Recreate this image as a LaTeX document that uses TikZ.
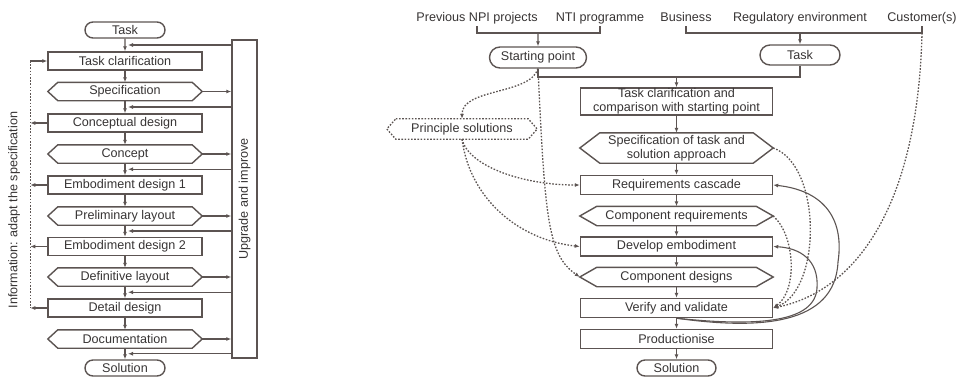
\documentclass[tikz,border=0pt]{standalone}
\usepackage{fontspec}
\setmainfont{Liberation Sans}
\usetikzlibrary{arrows.meta,shapes.misc,calc}
\definecolor{lc}{RGB}{92,84,82}
\definecolor{tc}{RGB}{55,52,52}
\begin{document}
\begin{tikzpicture}[x=1pt,y=-1pt,
 every node/.style={font=\fontsize{12.6}{13.8}\selectfont, text=tc, inner sep=0pt},
 box/.style={draw=lc, line width=1.4pt, minimum width=154pt, minimum height=18pt},
 rbox/.style={box, minimum width=192pt, minimum height=19pt},
 hexn/.style={minimum width=154pt, minimum height=18pt},
 rhexn/.style={minimum width=193pt, minimum height=19pt},
 stad/.style={draw=lc, line width=1.4pt, rounded rectangle, minimum width=80pt, minimum height=16pt},
 lab/.style={text height=10pt, text depth=3pt, inner sep=1.5pt},
 arr/.style={draw=lc, line width=1.1pt, -{Latex[length=5pt,width=4pt]}},
 ln/.style={draw=lc, line width=1.1pt},
 dotl/.style={draw=lc, line width=1.3pt, dash pattern=on 1.6pt off 1.6pt},
 dotarr/.style={dotl, -{Latex[length=5pt,width=4pt]}},
 hexline/.style={draw=lc, line width=1.4pt, line join=miter},
 solarr/.style={draw=lc, line width=1.1pt, -{Latex[length=5pt,width=4pt]}}
]
\useasboundingbox (0,0) rectangle (966,376);

% ---------------- left diagram ----------------
\node[stad] (task) at (125,30) {Task};
\node[box] (tcl) at (125,61) {Task clarification};
\node[hexn] (spec) at (125,91.5) {Specification};
\node[box] (cd) at (125,123) {Conceptual design};
\node[hexn] (concept) at (125,154) {Concept};
\node[box] (ed1) at (125,185) {Embodiment design 1};
\node[hexn] (prel) at (125,216) {Preliminary layout};
\node[box] (ed2) at (125,246.5) {Embodiment design 2};
\node[hexn] (defl) at (125,277) {Definitive layout};
\node[box] (dd) at (125,308) {Detail design};
\node[hexn] (doc) at (125,339) {Documentation};
\node[stad] (sol) at (125,368) {Solution};

\node[draw=lc, line width=1.4pt, minimum width=25pt, minimum height=318pt] (ub) at (244.5,199) {};
\node[rotate=90] (ubt) at (ub.center) {Upgrade and improve};
\node[rotate=90] (info) at (14,210) {Information: adapt the specification};

\foreach \a/\b in {task/tcl,tcl/spec,spec/cd,cd/concept,concept/ed1,ed1/prel,prel/ed2,ed2/defl,defl/dd,dd/doc,doc/sol}
  \draw[arr] (\a) -- (\b);

\foreach \n in {spec,concept,prel,defl,doc}
  \draw[arr] (\n.east) -- (\n.east -| ub.west);

\foreach \a/\b in {task/tcl,spec/cd,concept/ed1,prel/ed2,defl/dd,doc/sol}{
  \coordinate (m) at ($(\a.south)!.5!(\b.north)$);
  \draw[arr] (m -| ub.west) -- ([xshift=3pt]m);
}

\coordinate (it) at ([xshift=-17pt]tcl.west);
\coordinate (ib) at ([xshift=-17pt]dd.west);
\draw[dotl] (it) -- (ib);
\draw[arr] (it) -- (tcl.west);
\foreach \n in {cd,ed1,ed2,dd}
  \draw[arr] (\n.west) -- ([xshift=-17pt]\n.west);

% ---------------- right diagram ----------------
\node[lab] (prev) at (477,18) {Previous NPI projects};
\node[lab] (nti) at (600,18) {NTI programme};
\node[lab] (bus) at (686,18) {Business};
\node[lab] (reg) at (800,18) {Regulatory environment};
\node[lab] (cust) at (922,18) {Customer(s)};

\node[stad, minimum width=97pt, minimum height=21pt] (sp) at (538,57.5) {Starting point};
\node[stad, minimum height=20pt] (task2) at (800,55) {Task};

\node[box, minimum width=192pt, minimum height=27pt, align=center] (tc2) at (676.5,101.5) {Task clarification and\\comparison with starting point};
\node[minimum width=193pt, minimum height=30pt, align=center] (spec2) at (676.5,148) {Specification of task and\\solution approach};
\node[rbox] (req) at (676.5,185) {Requirements cascade};
\node[rhexn] (creq) at (676.5,216) {Component requirements};
\node[rbox] (dev) at (676.5,246.5) {Develop embodiment};
\node[rhexn] (cdes) at (676.5,277) {Component designs};
\node[rbox] (vv) at (676.5,308) {Verify and validate};
\node[rbox] (prod) at (676.5,339) {Productionise};
\node[stad, minimum width=79pt] (sol2) at (676.5,368) {Solution};

\node[minimum width=150pt, minimum height=20pt] (ps) at (462,129) {Principle solutions};

\foreach \n/\d in {spec/10pt,concept/10pt,prel/10pt,defl/10pt,doc/10pt,spec2/20pt,creq/17pt,cdes/17pt}
  \draw[hexline] ([xshift=\d]\n.north west) -- ([xshift=-\d]\n.north east) -- (\n.east)
    -- ([xshift=-\d]\n.south east) -- ([xshift=\d]\n.south west) -- (\n.west) -- cycle;
\draw[dotl, line join=miter] ([xshift=9pt]ps.north west) -- ([xshift=-9pt]ps.north east) -- (ps.east)
    -- ([xshift=-9pt]ps.south east) -- ([xshift=9pt]ps.south west) -- (ps.west) -- cycle;

\coordinate (b1) at (538,33);
\coordinate (b2) at (800,33);
\draw[ln] (prev.south) |- (b1) -| (nti.south);
\draw[arr] (b1) -- (sp);
\draw[ln] (bus.south) |- (b2) -| (cust.south);
\draw[arr] (b2) -- (task2);

\coordinate (j) at (676.5,77);
\draw[ln] (sp.south) |- (j);
\draw[ln] (task2.south) |- (j);
\draw[arr] (j) -- (tc2);

\foreach \a/\b in {tc2/spec2,spec2/req,req/creq,creq/dev,dev/cdes,cdes/vv,vv/prod,prod/sol2}
  \draw[arr] (\a) -- (\b);

% dotted connectors, left
\draw[dotarr] (sp.south) .. controls (530,95) and (462,88) .. (ps.north);
\draw[dotarr] (sp.south) .. controls (545,220) and (548,255) .. (cdes.west);
\draw[dotarr] (ps.south) .. controls (468,165) and (520,185) .. (req.west);
\draw[dotarr] (ps.south) .. controls (470,200) and (520,240) .. (dev.west);

% dotted connectors, right
\draw[dotarr] (cust.south |- b2) .. controls (918,200) and (860,290) .. (vv.east);
\draw[dotarr] (spec2.east) .. controls (822,165) and (822,290) .. (vv.east);
\draw[dotarr] (creq.east) .. controls (795,235) and (798,290) .. (vv.east);

% solid feedback curves
\coordinate (ca) at (838,262);
\coordinate (cb) at (817,288);
\draw[solarr] (vv.south) .. controls (760,330) and (835,325) .. (ca) .. controls (845,215) and (820,190) .. (req.east);
\draw[solarr] (vv.south) .. controls (760,327) and (815,322) .. (cb) .. controls (819,260) and (800,248) .. (dev.east);

\end{tikzpicture}
\end{document}
